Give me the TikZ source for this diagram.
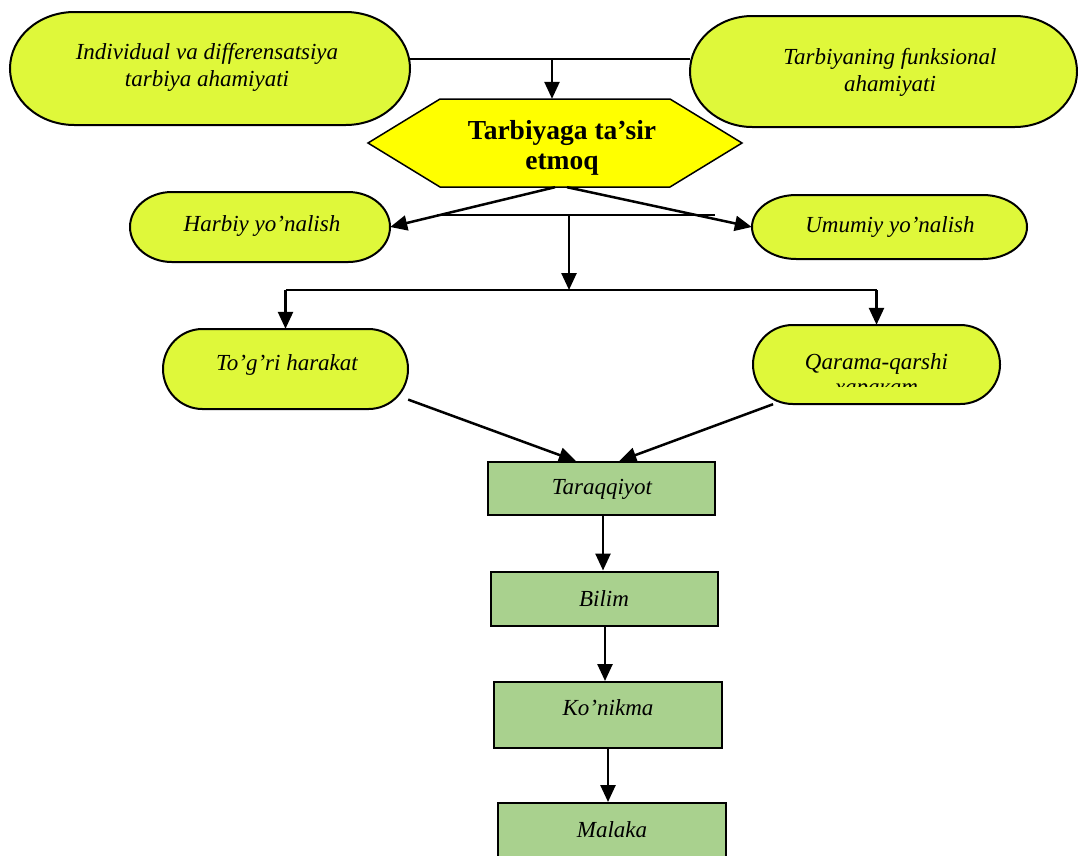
\documentclass[tikz,border=0pt]{standalone}
\usepackage{fontspec}
\setmainfont{Liberation Serif}
\usetikzlibrary{arrows.meta}
\definecolor{limefill}{RGB}{223,248,58}
\definecolor{greenfill}{RGB}{169,209,142}
\definecolor{hexfill}{RGB}{255,255,0}
\tikzset{
  termline/.style={draw=black, line width=2pt, fill=limefill},
  anchorbox/.style={inner sep=0pt, draw=none},
  itxt/.style={font=\itshape\fontsize{23}{27}\selectfont, align=center, inner sep=0pt},
  btxt/.style={font=\bfseries\fontsize{27.5}{29.5}\selectfont, align=center, inner sep=0pt},
  greenbox/.style={draw=black, line width=2pt, fill=greenfill, inner sep=0pt},
  arr/.style={draw=black, line width=2.5pt, -{Triangle[length=17pt,width=15pt]}},
  thinline/.style={draw=black, line width=1.8pt}
}
\newcommand\termshape[5]{%
  \pgfmathsetmacro\trx{0.161*#4}%
  \pgfmathsetmacro\thw{#4/2}%
  \pgfmathsetmacro\thh{#5/2}%
  \draw[termline] (#2-\thw+\trx, -#3+\thh) -- (#2+\thw-\trx, -#3+\thh)
    arc[start angle=90, end angle=-90, x radius=\trx, y radius=\thh]
    -- (#2-\thw+\trx, -#3-\thh)
    arc[start angle=270, end angle=90, x radius=\trx, y radius=\thh] -- cycle;
  \node[anchorbox, minimum width=#4pt, minimum height=#5pt] (#1) at (#2,-#3) {};
}
\begin{document}
\begin{tikzpicture}[x=1pt,y=1pt]
\useasboundingbox (0,0) rectangle (1078,-855);
% terminator shapes
\termshape{tl}{210}{68.5}{400}{113}
\termshape{tr}{883.5}{71.5}{387}{111}
\termshape{harb}{260}{227}{260}{70}
\termshape{umu}{889.5}{227}{275}{64}
\termshape{tog}{285.5}{369}{245}{80}
\termshape{qar}{876.5}{364.5}{247}{79}
% hexagon
\draw[draw=black, line width=1.5pt, fill=hexfill] (368,-143) -- (440,-99) -- (670,-99) -- (742,-143) -- (670,-187) -- (440,-187) -- cycle;
\node[anchorbox, minimum width=374pt, minimum height=88pt] (hex) at (555,-143) {};
% green boxes
\node[greenbox, minimum width=227pt, minimum height=53pt] (tar) at (601.5,-488.5) {};
\node[greenbox, minimum width=227pt, minimum height=54pt] (bil) at (604.5,-598.5) {};
\node[greenbox, minimum width=228pt, minimum height=66pt] (kon) at (608,-715) {};
\node[greenbox, minimum width=228pt, minimum height=56pt] (mal) at (612,-831) {};
% texts
\node[itxt] (tlt) at (207,-67.5) {Individual va differensatsiya\\tarbiya ahamiyati};
\node[itxt] (trt) at (890,-72) {Tarbiyaning funksional\\ahamiyati};
\node[btxt] (hext) at (562,-148) {Tarbiyaga ta’sir\\etmoq};
\node[itxt] (harbt) at (262,-226) {Harbiy yo’nalish};
\node[itxt] (umut) at (890,-227) {Umumiy yo’nalish};
\node[itxt] (togt) at (287,-365) {To’g’ri harakat};
\begin{scope}
  \clip (753,-320) rectangle (1000,-386.5);
  \node[itxt, font=\itshape\fontsize{23}{25.5}\selectfont] (qart) at (876.5,-376.5) {Qarama-qarshi\\харакат};
\end{scope}
\node[itxt] (tart) at (602,-489) {Taraqqiyot};
\node[itxt] (bilt) at (604,-599) {Bilim};
\node[itxt] (kont) at (608,-708) {Ko’nikma};
\node[itxt] (malt) at (612,-830) {Malaka};
% connectors
\coordinate (tj) at (552,-59);
\draw[thinline] ([yshift=9.5pt]tl.east) -- ([yshift=12.5pt]tr.west);
\draw[arr] (tj) -- ([xshift=-3pt]hex.north);
\draw[arr] (hex.south) -- (harb.east);
\draw[arr] ([xshift=12pt]hex.south) -- (umu.west);
\coordinate (hl) at (437,-215);
\coordinate (hr) at (715,-215);
\coordinate (hm) at (569,-215);
\coordinate (bm) at (569,-290);
\coordinate (bl) at (285.5,-290);
\coordinate (br) at (876.5,-290);
\draw[line width=1.5pt] (hl) -- (hr);
\draw[arr] (hm) -- (bm);
\draw[thinline] (bl) -- (br);
\draw[arr] (bl) -- (tog.north);
\draw[arr] (br) -- (qar.north);
\draw[arr] (tog.-14) -- (tar.133);
\draw[arr] (qar.201) -- (tar.57);
\draw[arr] ([xshift=1.5pt]tar.south) -- ([xshift=-1.5pt]bil.north);
\draw[arr] ([xshift=0.5pt]bil.south) -- ([xshift=-3pt]kon.north);
\draw[arr] (kon.south) -- ([xshift=-4pt]mal.north);
\end{tikzpicture}
\end{document}
